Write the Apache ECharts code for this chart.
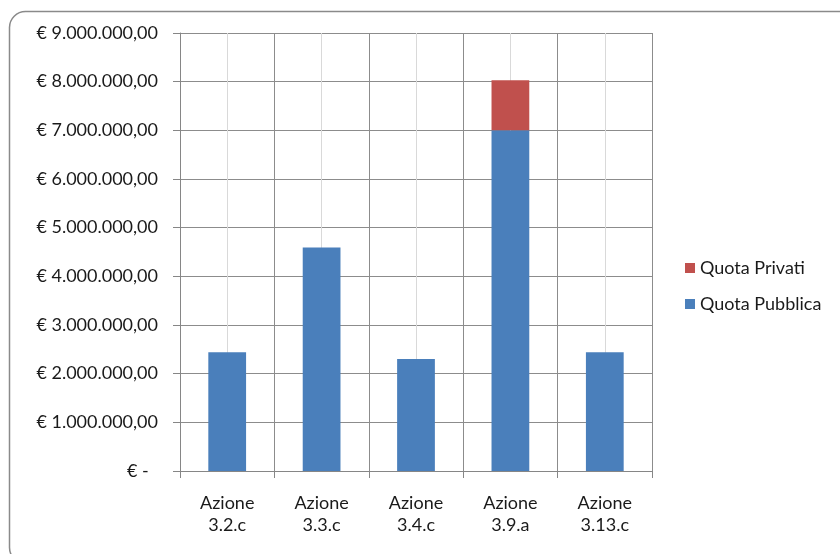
<!DOCTYPE html>
<html>
<head>
<meta charset="utf-8">
<script src="https://cdn.jsdelivr.net/npm/echarts@6/dist/echarts.min.js"></script>
<style>
html,body{margin:0;padding:0;background:#fff;}
#chart{width:840px;height:554px;}
</style>
</head>
<body>
<div id="chart"></div>
<script>
var categories = ['Azione\n3.2.c', 'Azione\n3.3.c', 'Azione\n3.4.c', 'Azione\n3.9.a', 'Azione\n3.13.c'];
var quotaPubblica = [2440000, 4590000, 2300000, 7000000, 2440000];
var quotaPrivati = [0, 0, 0, 1030000, 0];
var yMax = 9000000;
var yInterval = 1000000;

function fmtEuro(v) {
  if (v === 0) return '€ -  ';
  var s = Math.round(v).toString().replace(/\B(?=(\d{3})+(?!\d))/g, '.');
  return '€ ' + s + ',00';
}

var FONT = 'Lato';
var FS = 18;
var chart = echarts.init(document.getElementById('chart'));
chart.setOption({
  animation: false,
  backgroundColor: '#ffffff',
  textStyle: { fontFamily: FONT },
  graphic: [{
    type: 'rect',
    shape: { x: 9.5, y: 11.5, width: 850, height: 552, r: 16 },
    style: { fill: 'none', stroke: '#8a8a8a', lineWidth: 1.5 },
    z: 100
  }],
  grid: { left: 180, right: 188, top: 33, bottom: 83, containLabel: false },
  legend: {
    orient: 'vertical',
    left: 680,
    top: 254,
    itemWidth: 10,
    itemHeight: 10,
    itemGap: 18,
    icon: 'rect',
    data: ['Quota Privati', 'Quota Pubblica'],
    textStyle: { fontFamily: FONT, fontSize: FS, color: '#1a1a1a' }
  },
  xAxis: [{
    type: 'category',
    data: categories,
    boundaryGap: true,
    axisLine: { lineStyle: { color: '#868686', width: 1 } },
    axisTick: { show: true, length: 7, lineStyle: { color: '#868686' } },
    splitLine: { show: false },
    axisLabel: { fontFamily: FONT, fontSize: FS, color: '#1a1a1a', margin: 21, lineHeight: 22 }
  }, {
    type: 'value',
    min: 0, max: 10, interval: 1,
    position: 'bottom',
    show: true,
    axisLine: { show: false },
    axisTick: { show: false },
    axisLabel: { show: false },
    splitLine: { show: true, lineStyle: { color: ['#8c8c8c', '#d9d9d9'], width: 1 } }
  }],
  yAxis: {
    type: 'value',
    min: 0, max: yMax, interval: yInterval,
    axisLine: { show: true, lineStyle: { color: '#868686' } },
    axisTick: { show: true, length: 7, lineStyle: { color: '#868686' } },
    splitLine: { show: true, lineStyle: { color: '#8c8c8c' } },
    axisLabel: { fontFamily: FONT, fontSize: FS, color: '#1a1a1a', margin: 22, formatter: fmtEuro }
  },
  series: [{
    name: 'Quota Pubblica',
    type: 'bar',
    stack: 'tot',
    xAxisIndex: 0,
    barWidth: '40%',
    itemStyle: { color: '#4a7fbb' },
    data: quotaPubblica
  }, {
    name: 'Quota Privati',
    type: 'bar',
    stack: 'tot',
    xAxisIndex: 0,
    barWidth: '40%',
    itemStyle: { color: '#c0504d' },
    data: quotaPrivati
  }]
});
</script>
</body>
</html>
